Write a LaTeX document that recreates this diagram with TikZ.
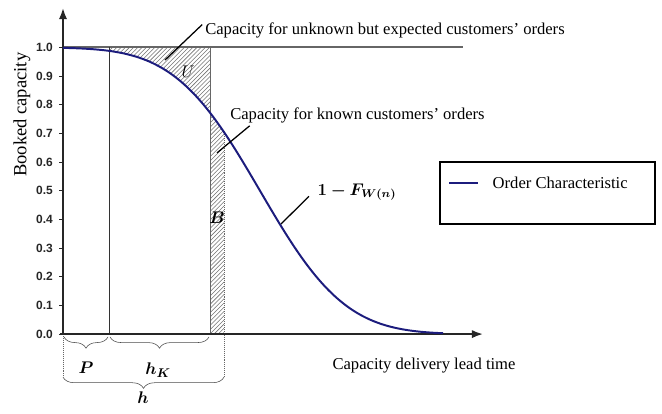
\documentclass[tikz,border=0pt]{standalone}
\usepackage{fontspec}
\setmainfont{Liberation Serif}
\setsansfont{Liberation Sans}
\usepackage{bm}
\usetikzlibrary{arrows.meta,patterns,decorations.pathreplacing}
\definecolor{orderblue}{RGB}{28,28,125}
\tikzset{
  axisline/.style={line width=1.4pt, black!85, -{Latex[length=8pt,width=6pt]}},
  occcurve/.style={line width=1.4pt, orderblue},
  hatched/.style={pattern=north east lines, pattern color=black!55},
  leader/.style={line width=0.9pt},
  note/.style={font=\fontsize{11.8}{13}\selectfont, inner sep=0pt},
  ticklabel/.style={font=\sffamily\bfseries\fontsize{8.5}{9}\selectfont, inner sep=0pt, anchor=east, black!85},
  symbol/.style={font=\fontsize{13}{15}\selectfont, inner sep=0pt},
  under/.style={decorate, decoration={brace, mirror, amplitude=8pt}, black!70, thin}
}

\begin{document}
\begin{tikzpicture}[x=0.025cm, y=7.165cm,
  declare function={zz(\t)=(\t-197)/67;
    occ(\t)=1/(1+exp(1.5976*zz(\t)+0.07056*zz(\t)*zz(\t)*zz(\t)));}]
		%%%%% START %%%%%
		\useasboundingbox (-63,-0.2757) rectangle (599,1.1654);
		
		\fill[hatched] (46,1) -- plot[domain=46:147, samples=40] (\x,{occ(\x)}) -- (147,1) -- cycle;
		\fill[hatched] (147,0) -- plot[domain=147:161, samples=10] (\x,{occ(\x)}) -- (161,0) -- cycle;
		
		\draw[line width=1.5pt, black!60] (0,1) -- (400,1);
		\draw[black!80, thin] (46,0) -- (46,1);
		\draw[black!60, thin] (147,0) -- (147,1);
		\draw[black!60, thin, densely dotted] (161,{occ(161)}) -- (161,-0.15);
		\draw[black!60, thin, densely dotted] (0,0) -- (0,-0.15);
		
		\draw[axisline] (-3,0) -- (420,0);
		\draw[axisline] (0,0) -- (0,1.1375);
		\foreach \i in {0,...,10}
			\draw[black!85, line width=0.8pt] (0,\i/10) -- (-4,\i/10)
				node[ticklabel, xshift=-4pt] (tick\i) {\ifnum\i=10 1.0\else 0.\i\fi};
		
		\draw[occcurve] plot[domain=0:380, samples=120] (\x,{occ(\x)});
		
		\node[note, anchor=west] (unknown) at (142,1.060) {Capacity for unknown but expected customers’ orders};
		\coordinate (uend) at (102,0.956);
		\draw[leader] ([xshift=-2pt,yshift=4pt]unknown.west) -- (uend);
		\node[symbol] (ulab) at (125,0.914) {$U$};
		
		\node[note, anchor=west] (known) at (167,0.764) {Capacity for known customers’ orders};
		\coordinate (kend) at (154,0.632);
		\draw[leader] ([xshift=14pt,yshift=-2pt]known.south west) -- (kend);
		\node[symbol] (blab) at (154,0.405) {$\bm{B}$};
		
		\node[font=\fontsize{12}{14}\selectfont, inner sep=0pt] (fw) at (294,0.495) {$\bm{1-F_{W(n)}}$};
		\coordinate (fend) at (218,0.384);
		\draw[leader] ([xshift=-6pt,yshift=-3pt]fw.west) -- (fend);
		
		\node[draw, line width=0.8pt, minimum width=5.375cm, minimum height=1.55cm, inner sep=0pt] (legend) at (484.5,0.492) {};
		\draw[occcurve, line width=2pt] ([xshift=0.25cm, yshift=0.25cm]legend.west) -- ++(0.725cm,0);
		\node[note, anchor=west] (legtext) at ([xshift=1.325cm, yshift=0.25cm]legend.west) {Order Characteristic};
		
		\node[note] (xlabel) at (361,-0.108) {Capacity delivery lead time};
		\node[font=\fontsize{13.2}{15}\selectfont, rotate=90, inner sep=0pt] (ylabel) at (-41,0.765) {Booked capacity};
		
		\draw[under] (1,-0.01) -- (45,-0.01);
		\draw[under] (47,-0.01) -- (146,-0.01);
		\draw[under] (0,-0.15) -- (161,-0.15);
		\node[symbol] (plab) at (23,-0.119) {$\bm{P}$};
		\node[symbol] (hklab) at (95,-0.126) {$\bm{h_K}$};
		\node[symbol] (hlab) at (80,-0.22) {$\bm{h}$};
		%%%%% END %%%%%
\end{tikzpicture}
\end{document}
